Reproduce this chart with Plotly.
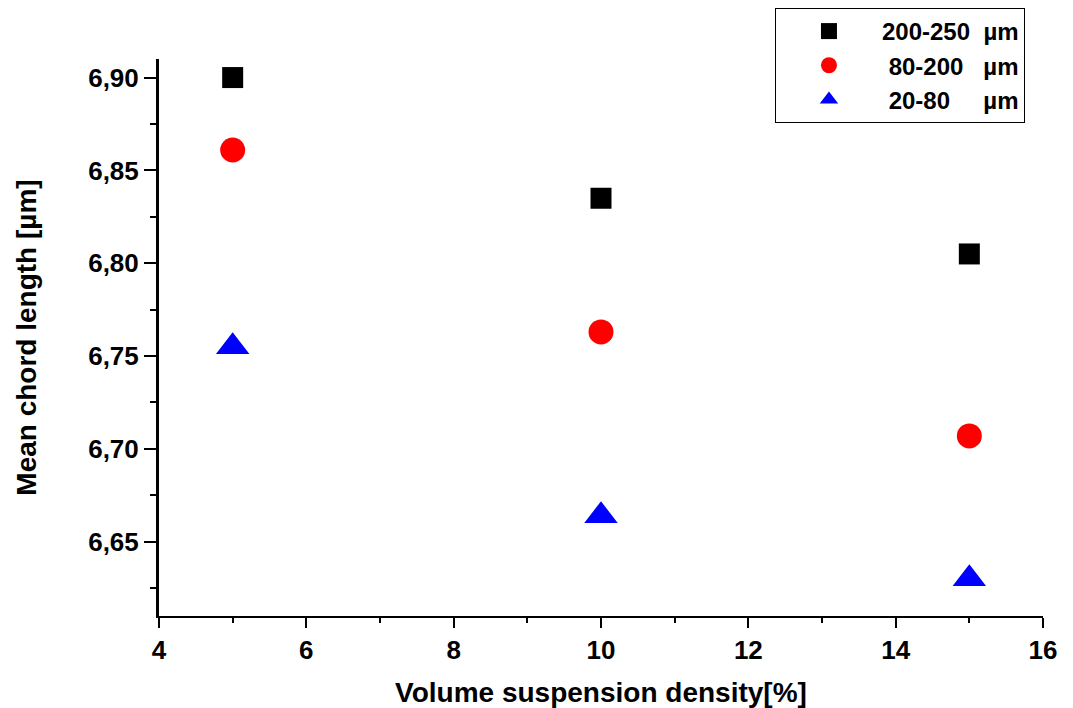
import plotly.graph_objects as go

# Volume suspension density [%]
density = [5, 10, 15]

# Mean chord length for each particle size class
chord_200_250 = [6.900, 6.835, 6.805]
chord_80_200 = [6.861, 6.763, 6.707]
chord_20_80 = [6.755, 6.664, 6.630]

NB = "\u00a0"
series_names = [
    "200-250" + NB * 2 + "µm",
    NB + "80-200" + NB * 3 + "µm",
    NB + "20-80" + NB * 5 + "µm",
]

FONT = "Liberation Sans, Arial, sans-serif"

fig = go.Figure()
fig.add_trace(go.Scatter(x=density, y=chord_200_250, mode="markers", name=series_names[0],
                         marker=dict(symbol="square", size=21, color="#000000")))
fig.add_trace(go.Scatter(x=density, y=chord_80_200, mode="markers", name=series_names[1],
                         marker=dict(symbol="circle", size=25, color="#ff0000")))
fig.add_trace(go.Scatter(x=density, y=chord_20_80, mode="markers", name=series_names[2],
                         marker=dict(symbol="triangle-up", size=29, color="#0000ff")))

fig.update_layout(
    width=1073, height=708,
    margin=dict(l=159, r=30, t=59, b=92, autoexpand=False),
    paper_bgcolor="white", plot_bgcolor="white",
    separators=",.",
    font=dict(family=FONT, color="black", size=24, weight="bold"),
    showlegend=True,
    legend=dict(
        x=0.9796, y=1.0916, xanchor="right", yanchor="top",
        bordercolor="black", borderwidth=1, bgcolor="white",
        font=dict(family=FONT, size=24, weight="bold", color="black"),
        tracegroupgap=0, itemwidth=96,
    ),
    xaxis=dict(
        range=[4, 16], tickmode="linear", tick0=4, dtick=2,
        showgrid=False, zeroline=False,
        showline=True, linecolor="black", linewidth=2,
        ticks="outside", ticklen=10, tickwidth=2, tickcolor="black",
        tickfont=dict(family=FONT, size=26, weight="bold"),
        minor=dict(ticks="outside", dtick=1, tick0=4, ticklen=5, tickwidth=2, tickcolor="black", showgrid=False),
        title=dict(text="Volume suspension density[%]", standoff=20,
                   font=dict(family=FONT, size=28, weight="bold")),
    ),
    yaxis=dict(
        range=[6.61, 6.91], tickmode="linear", tick0=6.65, dtick=0.05, tickformat=".2f",
        showgrid=False, zeroline=False,
        showline=True, linecolor="black", linewidth=3,
        ticks="outside", ticklen=12, tickwidth=2, tickcolor="black",
        tickfont=dict(family=FONT, size=26, weight="bold"),
        minor=dict(ticks="outside", dtick=0.025, tick0=6.625, ticklen=6, tickwidth=2, tickcolor="black", showgrid=False),
        title=dict(text="Mean chord length [µm]", standoff=44,
                   font=dict(family=FONT, size=28, weight="bold")),
    ),
)

fig.write_html("out.html")
